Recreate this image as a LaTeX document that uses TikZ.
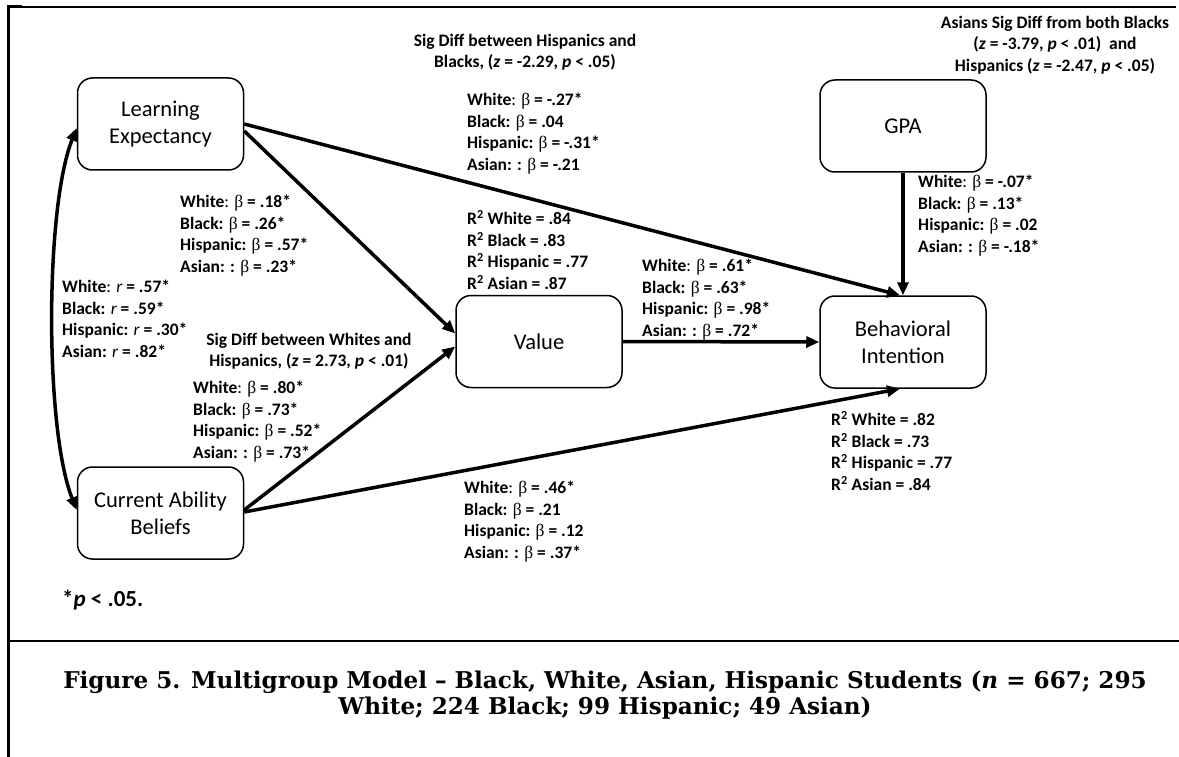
\documentclass[tikz,border=0pt]{standalone}
\usepackage{fontspec}
\setmainfont{Carlito}
\newfontfamily\capfont{DejaVu Serif}
\newfontfamily\grkfont{Liberation Serif}
\usetikzlibrary{arrows.meta,calc}
\newcommand\bet{{\grkfont\mdseries β}}
\newcommand\cln{{\mdseries:}}
\tikzset{
  varbox/.style={draw, line width=1.5pt, rounded corners=15pt,
    minimum width=166pt, minimum height=92pt, inner sep=0pt,
    align=center, font=\fontsize{22.5}{27}\selectfont},
  lbl/.style={anchor=north west, inner sep=0pt, align=left,
    font=\bfseries\fontsize{17.5}{21.5}\selectfont},
  note/.style={anchor=north, inner sep=0pt, align=center,
    font=\bfseries\fontsize{17.5}{21.5}\selectfont},
  path/.style={line width=3.5pt, -{Triangle[length=13pt,width=11pt]}},
  frame/.style={line width=2.5pt}
}
\begin{document}
\begin{tikzpicture}[x=1pt,y=-1pt]
\useasboundingbox (0,0) rectangle (1179,757);

% outer rules of the figure
\draw[line width=1.5pt] (7,7) -- (1176,7);
\draw[line width=3pt] (7,7) -- (22,7);
\draw[line width=3pt] (8,6) -- (8,757);
\draw[frame] (7,641) -- (1179,641);

% variables
\node[varbox] (le)  at (160.5,124)  {Learning\\Expectancy};
\node[varbox] (cab) at (160.5,513)  {Current Ability\\Beliefs};
\node[varbox] (val) at (539,341.5)  {Value};
\node[varbox] (bi)  at (903,342)    {Behavioral\\Intention};
\node[varbox] (gpa) at (903,126)    {GPA};

% paths
\draw[path] (le.east) -- ([xshift=-3pt]bi.north);
\draw[path] ([yshift=-7pt]le.east) -- ([yshift=8pt]val.west);
\draw[path] ([yshift=3pt]cab.east) -- ([yshift=-5pt]val.west);
\draw[path] ([yshift=1pt]cab.east) -- ([xshift=-3pt]bi.south);
\draw[path] (val.east) -- (bi.west);
\draw[path] (gpa.south) -- (bi.north);
\draw[line width=3.5pt, {Triangle[length=13pt,width=11pt]}-{Triangle[length=13pt,width=11pt]}]
  ([yshift=-4pt]le.west) .. controls ($([yshift=-4pt]le.west)+(-32,80)$)
  and ($([yshift=3pt]cab.west)+(-32,-80)$) .. ([yshift=3pt]cab.west);

% coefficients
\node[note] (sdhb) at (525,33.6) {Sig Diff between Hispanics and\\Blacks, ({\itshape z} = -2.29, {\itshape p} < .05)};
\node[lbl] (lebi) at (467,90.6) {\strut White\cln{} \bet{} = -.27*\\Black: \bet{} = .04\\Hispanic: \bet{} = -.31*\\Asian: : \bet{} = -.21};
\node[lbl] (rval) at (467,209.6) {\strut R\textsuperscript{2} White = .84\\R\textsuperscript{2} Black = .83\\R\textsuperscript{2} Hispanic = .77\\R\textsuperscript{2} Asian = .87};
\node[lbl] (valbi) at (642,256.6) {\strut White\cln{} \bet{} = .61*\\Black: \bet{} = .63*\\Hispanic: \bet{} = .98*\\Asian: : \bet{} = .72*};
\node[lbl] (leval) at (180,192.6) {\strut White\cln{} \bet{} = .18*\\Black: \bet{} = .26*\\Hispanic: \bet{} = .57*\\Asian: : \bet{} = .23*};
\node[lbl] (corr) at (62,277.6) {\strut White\cln{} {\mdseries\itshape r} = .57*\\Black: {\mdseries\itshape r} = .59*\\Hispanic: {\mdseries\itshape r} = .30*\\Asian: {\mdseries\itshape r} = .82*};
\node[note] (sdwh) at (309,332.6) {Sig Diff between Whites and\\Hispanics, ({\itshape z} = 2.73, {\itshape p} < .01)};
\node[lbl] (cabval) at (193,378.6) {\strut White\cln{} \bet{} = .80*\\Black: \bet{} = .73*\\Hispanic: \bet{} = .52*\\Asian: : \bet{} = .73*};
\node[lbl] (cabbi) at (464,478.6) {\strut White\cln{} \bet{} = .46*\\Black: \bet{} = .21\\Hispanic: \bet{} = .12\\Asian: : \bet{} = .37*};
\node[lbl] (rbi) at (831,410.6) {\strut R\textsuperscript{2} White = .82\\R\textsuperscript{2} Black = .73\\R\textsuperscript{2} Hispanic = .77\\R\textsuperscript{2} Asian = .84};
\node[lbl] (gpabi) at (918,172.6) {\strut White\cln{} \bet{} = -.07*\\Black: \bet{} = .13*\\Hispanic: \bet{} = .02\\Asian: : \bet{} = -.18*};
\node[note] (sdas) at (1055,15.6) {Asians Sig Diff from both Blacks\\({\itshape z} = -3.79, {\itshape p} < .01)\ \ and\\Hispanics ({\itshape z} = -2.47, {\itshape p} < .05)};
\node[anchor=base west, inner sep=0pt, font=\bfseries\fontsize{23}{27}\selectfont] (sig) at (62,606) {*{\itshape p} < .05.};

% caption
\node[anchor=north, inner sep=0pt, align=center, font=\capfont\bfseries\fontsize{23.1}{26}\selectfont] (cap) at (605,669.6)
  {\strut Figure 5. Multigroup Model – Black, White, Asian, Hispanic Students ({\itshape n} = 667; 295\\White; 224 Black; 99 Hispanic; 49 Asian)};
\end{tikzpicture}
\end{document}
